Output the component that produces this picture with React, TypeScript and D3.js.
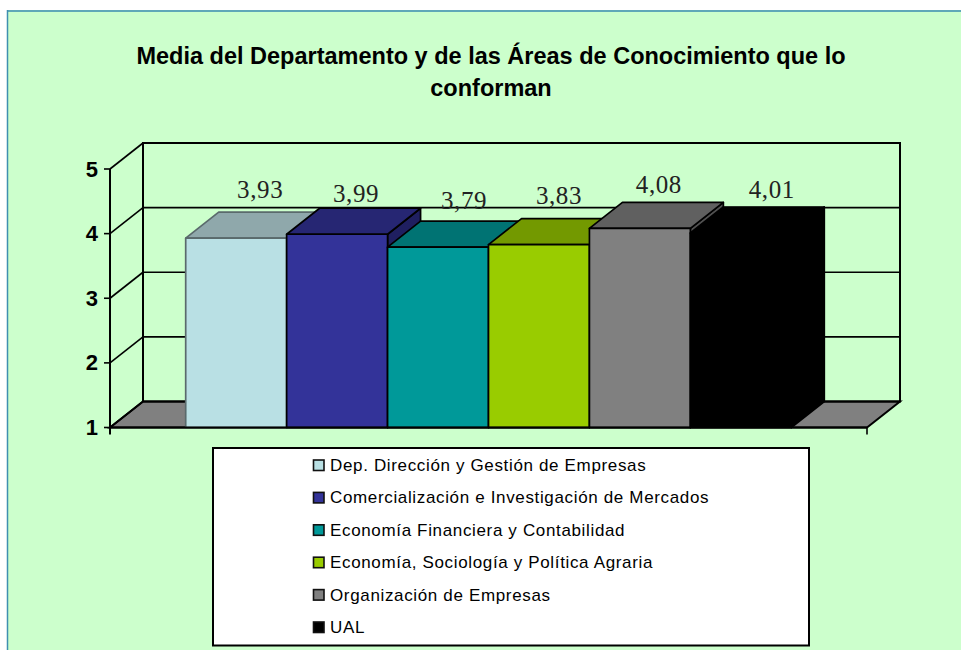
import * as d3 from 'd3';

const categories = [
  'Dep. Dirección y Gestión de Empresas',
  'Comercialización e Investigación de Mercados',
  'Economía Financiera y Contabilidad',
  'Economía, Sociología y Política Agraria',
  'Organización de Empresas',
  'UAL',
];
const values = [3.93, 3.99, 3.79, 3.83, 4.08, 4.01];
const valueLabels = ['3,93', '3,99', '3,79', '3,83', '4,08', '4,01'];
const colors = ['#b9e0e4', '#333399', '#009999', '#99cc00', '#808080', '#000000'];
const topColors = ['#8fa8ab', '#262673', '#007373', '#739900', '#606060', '#000000'];
const sideColors = ['#7b9598', '#1f1f60', '#006060', '#608000', '#505050', '#000000'];
const yTicks = [1, 2, 3, 4, 5];
const titleLines = ['Media del Departamento y de las Áreas de Conocimiento que lo', 'conforman'];

// hand placement of the value labels, same as the source chart
const labelDx = [24, 19, 26, 20, 19, 31];
const labelDy = [-40, -32, -38, -41, -35, -35];

const depthX = 33;
const depthY = -26;
const left = 110;
const right = 867;
const bottom = 427.5;

export default function App() {
  const x = d3.scaleBand<string>().domain(categories).range([left, right]).paddingInner(0).paddingOuter(0.75);
  const y = d3.scaleLinear().domain([1, 5]).range([bottom, 169]);
  const line = d3.line();
  const poly = (pts: [number, number][]) => line(pts) + 'Z';
  const legendY = d3.scalePoint<string>().domain(categories).range([465, 627]);
  const ink = '#000';

  return (
    <svg
      width={961}
      height={650}
      style={{ position: 'absolute', left: 0, top: 0, background: '#fff' }}
      fontFamily="'Liberation Sans', Arial, sans-serif"
    >
      <rect x={8} y={12} width={953} height={638} fill="#ccffcc" />
      <line x1={7} x2={961} y1={11} y2={11} stroke="#5fa8b8" strokeWidth={2} />
      <line x1={7.5} x2={7.5} y1={10} y2={650} stroke="#3f8fb0" strokeWidth={1.5} />

      {titleLines.map((t, i) => (
        <text key={t} x={491} y={64 + i * 32} textAnchor="middle" fontSize={23.5} fontWeight="bold" fill="#000">
          {t}
        </text>
      ))}

      {/* walls and floor */}
      <path
        d={poly([[left + depthX, bottom + depthY], [right + depthX, bottom + depthY], [right, bottom], [left, bottom]])}
        fill="#808080"
        stroke={ink}
        strokeWidth={2}
      />
      <path
        d={poly([[left + depthX, y(5) + depthY], [right + depthX, y(5) + depthY], [right + depthX, bottom + depthY], [left + depthX, bottom + depthY]])}
        fill="none"
        stroke={ink}
        strokeWidth={2}
      />
      {yTicks.slice(1, 4).map((t) => (
        <line key={t} x1={left + depthX} x2={right + depthX} y1={y(t) + depthY} y2={y(t) + depthY} stroke={ink} strokeWidth={1.6} />
      ))}
      {yTicks.map((t) => (
        <g key={t}>
          <line x1={left} x2={left + depthX} y1={y(t)} y2={y(t) + depthY} stroke={ink} strokeWidth={1.6} />
          <line x1={left - 6} x2={left} y1={y(t)} y2={y(t)} stroke={ink} strokeWidth={1.6} />
          <text x={left - 12} y={y(t) + 7.5} textAnchor="end" fontSize={22} fontWeight="bold" fill="#000">
            {t}
          </text>
        </g>
      ))}
      <line x1={left} x2={left} y1={y(5)} y2={bottom + 7} stroke={ink} strokeWidth={2} />
      <line x1={right} x2={right} y1={bottom} y2={bottom + 7} stroke={ink} strokeWidth={1.6} />

      {/* bars, left to right so each one hides the side of the last */}
      {categories.map((c, i) => {
        const x0 = x(c) as number;
        const x1 = x0 + x.bandwidth();
        const yv = y(values[i]);
        const stroke = i === 0 ? '#5a6a6c' : ink;
        return (
          <g key={c} stroke={stroke} strokeWidth={1.7} strokeLinejoin="round">
            <path d={poly([[x1, yv], [x1 + depthX, yv + depthY], [x1 + depthX, bottom + depthY], [x1, bottom]])} fill={sideColors[i]} />
            <path d={poly([[x0, yv], [x0 + depthX, yv + depthY], [x1 + depthX, yv + depthY], [x1, yv]])} fill={topColors[i]} />
            <rect x={x0} y={yv} width={x.bandwidth()} height={bottom - yv} fill={colors[i]} />
          </g>
        );
      })}
      <line x1={left} x2={right} y1={bottom} y2={bottom} stroke={ink} strokeWidth={2} />

      {categories.map((c, i) => (
        <text
          key={c}
          x={(x(c) as number) + x.bandwidth() / 2 + labelDx[i]}
          y={y(values[i]) + labelDy[i]}
          textAnchor="middle"
          fontFamily="'Liberation Serif', serif"
          fontSize={25}
          letterSpacing={0.6}
          fill="#222"
        >
          {valueLabels[i]}
        </text>
      ))}

      {/* legend */}
      <rect x={213} y={448} width={596} height={197.5} fill="#fff" stroke={ink} strokeWidth={2} />
      {categories.map((c, i) => {
        const ly = legendY(c) as number;
        return (
          <g key={c}>
            <rect x={313.5} y={ly - 5} width={10.5} height={10.5} fill={colors[i]} stroke="#111" strokeWidth={1.6} />
            <text x={330} y={ly + 6} fontSize={17} letterSpacing={0.65} fill="#000">
              {c}
            </text>
          </g>
        );
      })}
    </svg>
  );
}
